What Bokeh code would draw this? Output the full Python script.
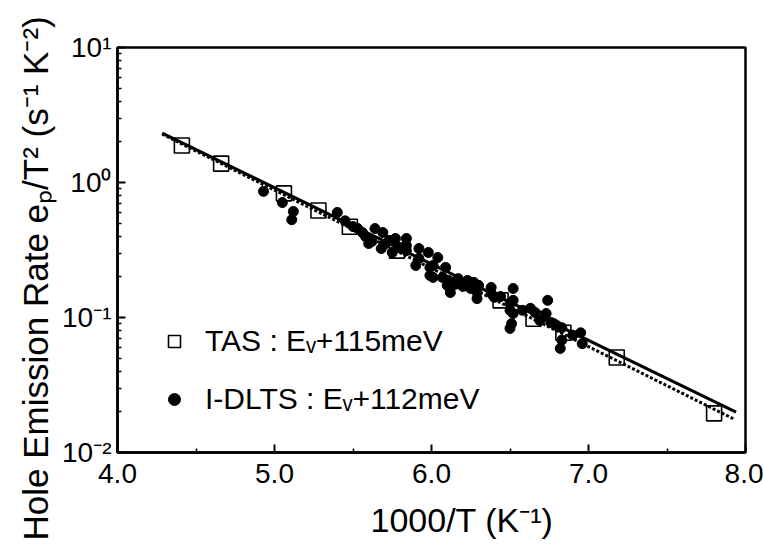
from bokeh.plotting import figure
from bokeh.models import Range1d, FixedTicker, Legend, LegendItem, Title
from bokeh.embed import file_html
from bokeh.resources import INLINE

# ---------------- data ----------------
# TAS (open squares)
tas_x = [4.41, 4.66, 5.06, 5.28, 5.48, 5.78, 6.44, 6.65, 6.84, 7.18, 7.80]
tas_y = [1.88, 1.38, 0.83, 0.62, 0.47, 0.313, 0.134, 0.098, 0.077, 0.0506, 0.0195]

# I-DLTS (filled circles)
dlts_x = [4.93, 5.05, 5.12, 5.11, 5.40, 5.45, 5.53, 5.56, 5.58, 5.60, 5.64, 5.69,
          5.68, 5.62, 5.77, 5.79, 5.75, 5.84, 5.84, 5.84, 5.92, 5.98, 5.92, 5.90,
          6.04, 6.01, 5.99, 6.09, 5.99, 6.01, 6.07, 6.11, 6.10, 6.12, 6.17, 6.23,
          6.27, 6.25, 6.29, 6.29, 6.30, 6.38, 6.38, 6.40, 6.52, 6.52, 6.50, 6.50,
          6.52, 6.51, 6.50, 6.58, 6.63, 6.66, 6.73, 6.74, 6.69, 6.76, 6.78, 6.80,
          6.83, 6.82, 6.83, 6.90, 6.95, 5.73, 6.15, 6.20, 6.44, 5.50, 5.70, 6.96]
dlts_y = [0.86, 0.71, 0.61, 0.53, 0.60, 0.52, 0.456, 0.426, 0.398, 0.353, 0.456, 0.426,
          0.324, 0.366, 0.385, 0.330, 0.303, 0.385, 0.341, 0.313, 0.324, 0.303, 0.274, 0.243,
          0.278, 0.243, 0.235, 0.235, 0.205, 0.198, 0.198, 0.188, 0.173, 0.153, 0.194, 0.188,
          0.182, 0.164, 0.153, 0.138, 0.173, 0.167, 0.151, 0.141, 0.164, 0.134, 0.127, 0.113,
          0.107, 0.090, 0.083, 0.113, 0.117, 0.109, 0.107, 0.134, 0.095, 0.092, 0.090, 0.087,
          0.084, 0.059, 0.068, 0.074, 0.077, 0.372, 0.176, 0.170, 0.143, 0.472, 0.348, 0.064]

# Arrhenius fit lines (end points)
fit_tas_x = [4.285, 7.94]
fit_tas_y = [2.32, 0.0199]
fit_dlts_x = [4.285, 7.93]
fit_dlts_y = [2.28, 0.0176]

x_ticks = [4.0, 5.0, 6.0, 7.0, 8.0]
x_tick_labels = ["4.0", "5.0", "6.0", "7.0", "8.0"]
x_minor_ticks = [4.5, 5.5, 6.5, 7.5]
y_ticks = [0.01, 0.1, 1.0, 10.0]
y_tick_labels = ["10\u207b\u00b2", "10\u207b\u00b9", "10\u2070", "10\u00b9"]

x_title_text = "1000/T (K\u207b\u00b9)"
y_title_text = "Hole Emission Rate e\u209a/T\u00b2 (s\u207b\u00b9 K\u207b\u00b2)"
legend_labels = ["TAS : E\u1d65+115meV", "I-DLTS : E\u1d65+112meV"]

FONT = "Liberation Sans"

p = figure(width=763, height=556, output_backend="svg", toolbar_location=None,
           x_range=Range1d(4.0, 8.0), y_range=Range1d(0.01, 10.0), y_axis_type="log",
           min_border_left=117, min_border_right=18, min_border_top=47,
           min_border_bottom=104)
p.background_fill_color = "white"
p.border_fill_color = "white"
p.xgrid.visible = False
p.ygrid.visible = False
p.outline_line_color = "black"
p.outline_line_width = 2.5

# fit lines
p.line(fit_tas_x, fit_tas_y, line_color="black", line_width=3)
p.line(fit_dlts_x, fit_dlts_y, line_color="black", line_width=3, line_dash="3 2")

r_tas = p.scatter(tas_x, tas_y, marker="square", size=15, fill_color=None,
                  line_color="black", line_width=1.6)
r_dlts = p.scatter(dlts_x, dlts_y, marker="circle", size=10, fill_color="black",
                   line_color="black")

# axes
for ax in (p.xaxis[0], p.yaxis[0]):
    ax.axis_line_width = 2.5
    ax.axis_line_color = "black"
    ax.major_tick_in = 8
    ax.major_tick_out = 0
    ax.minor_tick_in = 4
    ax.minor_tick_out = 0
    ax.major_tick_line_width = 2
    ax.minor_tick_line_width = 1.5
    ax.major_label_text_font = FONT
    ax.major_label_text_font_size = "28px"
    ax.major_label_text_color = "black"

p.xaxis.ticker = FixedTicker(ticks=x_ticks, minor_ticks=x_minor_ticks)
p.xaxis.major_label_overrides = dict(zip(x_ticks, x_tick_labels))
p.xaxis.major_label_standoff = 11

minor_y = [k * d for d in (0.01, 0.1, 1.0) for k in range(2, 10)]
p.yaxis.ticker = FixedTicker(ticks=y_ticks, minor_ticks=minor_y)
p.yaxis.major_label_overrides = dict(zip(y_ticks, y_tick_labels))
p.yaxis.major_label_standoff = 6

# axis titles as Title panels (allow offsetting along the axis)
p.add_layout(Title(text=x_title_text, align="left", offset=253,
                   text_font=FONT, text_font_size="34px", text_font_style="normal",
                   text_color="black", standoff=26), "below")
p.add_layout(Title(text=y_title_text, align="left", offset=-88,
                   text_font=FONT, text_font_size="35px", text_font_style="normal",
                   text_color="black", standoff=10), "left")

legend = Legend(items=[LegendItem(label=legend_labels[0], renderers=[r_tas]),
                       LegendItem(label=legend_labels[1], renderers=[r_dlts])],
                location=(42, 36), orientation="vertical")
legend.border_line_color = None
legend.background_fill_alpha = 0
legend.padding = 0
legend.margin = 0
legend.glyph_width = 30
legend.glyph_height = 30
legend.label_standoff = 16
legend.label_height = 30
legend.spacing = 24
legend.label_text_font = FONT
legend.label_text_font_size = "30px"
legend.label_text_color = "black"
p.add_layout(legend, "center")

open("out.html", "w").write(file_html(p, INLINE))
